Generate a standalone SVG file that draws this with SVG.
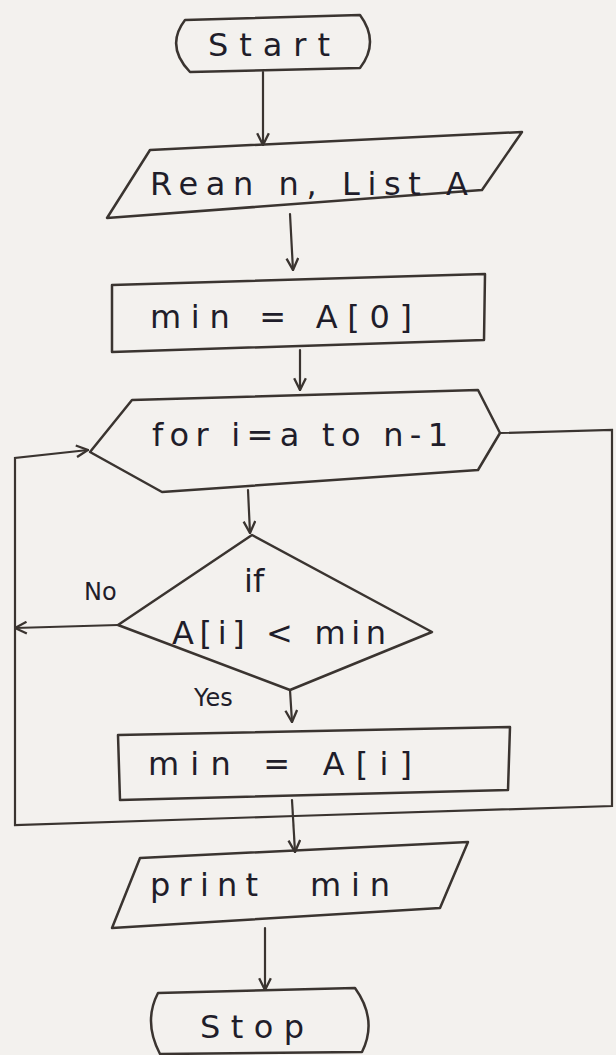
<svg xmlns="http://www.w3.org/2000/svg" width="616" height="1055" viewBox="0 0 616 1055">
<defs>
<marker id="arr" viewBox="0 0 12 12" refX="11" refY="6" markerWidth="14" markerHeight="14" markerUnits="userSpaceOnUse" orient="auto">
<path d="M1,1 L11,6 L1,11" fill="none" stroke="#3a3430" stroke-width="2"/>
</marker>
<style>
.shape{fill:none;stroke:#3a3430;stroke-width:2.5;stroke-linejoin:round;stroke-linecap:round}
.conn{fill:none;stroke:#3a3430;stroke-width:2.2;stroke-linecap:round;marker-end:url(#arr)}
.line{fill:none;stroke:#3a3430;stroke-width:2.2;stroke-linecap:round}
.t{font-family:"DejaVu Sans","Liberation Sans",sans-serif;font-size:32px;fill:#1f1d2a}
.s{font-size:24px}
</style>
</defs>
<rect width="616" height="1055" fill="#f3f1ee"/>
<g id="connectors">
<path class="conn" d="M263,72 L263,145"/>
<path class="conn" d="M290,214 L293,270"/>
<path class="conn" d="M300,350 L300,390"/>
<path class="conn" d="M248,490 L250,533"/>
<path class="conn" d="M118,625 L15,628"/>
<path class="conn" d="M290,690 L292,722"/>
<path class="conn" d="M292,800 L295,852"/>
<path class="line" d="M500,433 L612,430 L612,806 L295,816"/>
<path class="conn" d="M295,816 L15,825 L15,458 L88,450"/>
<path class="conn" d="M265,928 L265,990"/>
</g>
<g id="start">
<path class="shape" d="M185,20 L360,15 Q380,42 360,68 L190,72 Q165,46 185,20 Z"/>
<text class="t" x="208" y="56" textLength="122" lengthAdjust="spacing">Start</text>
</g>
<g id="read">
<path class="shape" d="M150,150 L522,132 L482,190 L107,218 Z"/>
<text class="t" x="150" y="195" textLength="318" lengthAdjust="spacing">Rean n, List A</text>
</g>
<g id="init">
<path class="shape" d="M112,285 L485,274 L484,340 L112,352 Z"/>
<text class="t" x="150" y="328" textLength="262" lengthAdjust="spacing">min = A[0]</text>
</g>
<g id="loop">
<path class="shape" d="M132,400 L478,390 L500,433 L478,470 L162,492 L90,452 Z"/>
<text class="t" x="152" y="446" textLength="296" lengthAdjust="spacing">for i=a to n-1</text>
</g>
<g id="decision">
<path class="shape" d="M252,535 L432,632 L290,690 L118,625 Z"/>
<text class="t" x="244" y="592">if</text>
<text class="t" x="172" y="644" textLength="214" lengthAdjust="spacing">A[i] &lt; min</text>
</g>
<g id="labels">
<text class="t s" x="84" y="600">No</text>
<text class="t s" x="194" y="706">Yes</text>
</g>
<g id="update">
<path class="shape" d="M118,735 L510,727 L508,790 L120,800 Z"/>
<text class="t" x="148" y="775" textLength="264" lengthAdjust="spacing">min = A[i]</text>
</g>
<g id="print">
<path class="shape" d="M140,858 L468,842 L440,908 L112,928 Z"/>
<text class="t" x="150" y="896" textLength="108" lengthAdjust="spacing">print</text>
<text class="t" x="310" y="896" textLength="80" lengthAdjust="spacing">min</text>
</g>
<g id="stop">
<path class="shape" d="M158,993 L355,988 Q378,1020 362,1052 L160,1054 Q143,1022 158,993 Z"/>
<text class="t" x="200" y="1038" textLength="104" lengthAdjust="spacing">Stop</text>
</g>
</svg>
